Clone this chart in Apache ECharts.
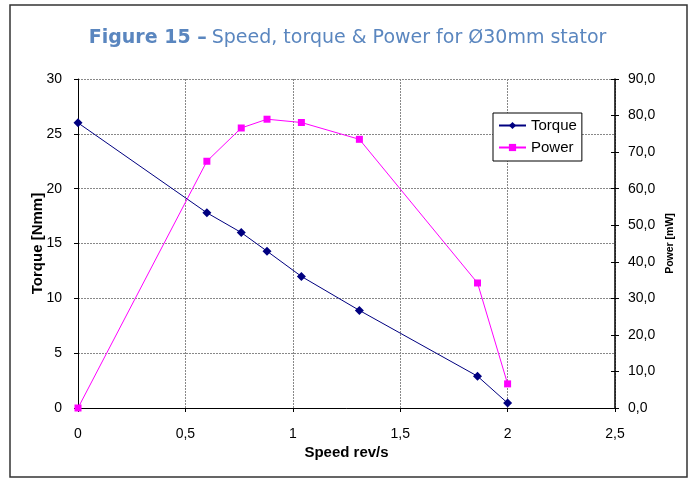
<!DOCTYPE html>
<html><head><meta charset="utf-8">
<script src="https://cdn.jsdelivr.net/npm/echarts@6/dist/echarts.min.js"></script>
<style>html,body{margin:0;padding:0;background:#fff}#c{width:695px;height:479px}</style>
</head><body><div id="c"></div>
<script>
const speed = [0, 0.60, 0.76, 0.88, 1.04, 1.31, 1.86, 2.0];
const torque = [26.0, 17.8, 16.0, 14.3, 12.0, 8.9, 2.9, 0.45];
const power = [0.0, 67.5, 76.6, 79.0, 78.1, 73.5, 34.2, 6.6];

const chart = echarts.init(document.getElementById('c'));
const lab = {color:'#000', fontFamily:'Liberation Sans, Arial', fontSize:14};
chart.setOption({
  animation:false,
  backgroundColor:'#fff',
  title:{
    text:'{b|Figure 15 –} {n|Speed, torque & Power for Ø30mm stator}',
    left:'center', top:24,
    textStyle:{rich:{
      b:{fontFamily:'DejaVu Sans', fontSize:19, fontWeight:'bold', color:'#5a86bf'},
      n:{fontFamily:'DejaVu Sans', fontSize:19, fontWeight:'normal', color:'#5a86bf'}
    }}
  },
  graphic:[{type:'rect', shape:{x:10, y:5, width:677, height:472}, style:{fill:'none', stroke:'#333', lineWidth:1.5}, silent:true, z:-1}],
  legend:{
    left:493, top:113, orient:'vertical', itemGap:7, itemWidth:27, itemHeight:9,
    padding:[5,5,6,5],
    borderColor:'#000', borderWidth:1, backgroundColor:'#fff',
    textStyle:{...lab, fontSize:15},
    data:['Torque','Power']
  },
  grid:{left:78, right:80, top:79, bottom:71},
  xAxis:{
    type:'value', min:0, max:2.5, interval:0.5,
    name:'Speed rev/s', nameLocation:'middle', nameGap:37, nameMoveOverlap:false,
    nameTextStyle:{...lab, fontSize:15, fontWeight:'bold'},
    axisLine:{show:true, lineStyle:{color:'#000', width:1}},
    axisTick:{show:true, inside:false, length:4, lineStyle:{color:'#000'}},
    axisLabel:{...lab, margin:19, formatter:v=>String(v).replace('.',',')},
    splitLine:{show:true, lineStyle:{color:'#888', type:[2,1], width:1}}
  },
  yAxis:[{
    type:'value', min:0, max:30, interval:5,
    name:'Torque [Nmm]', nameLocation:'middle', nameGap:33, nameRotate:90, nameMoveOverlap:false,
    nameTextStyle:{...lab, fontSize:15, fontWeight:'bold'},
    axisLine:{show:true, lineStyle:{color:'#000', width:1}},
    axisTick:{show:true, inside:false, length:4, lineStyle:{color:'#000'}},
    axisLabel:{...lab, margin:16},
    splitLine:{show:true, lineStyle:{color:'#888', type:[2,1], width:1}}
  },{
    type:'value', min:0, max:90, interval:10, position:'right',
    name:'Power [mW]', nameLocation:'middle', nameGap:50, nameRotate:90, nameMoveOverlap:false,
    nameTextStyle:{...lab, fontSize:10.5, fontWeight:'bold'},
    axisLine:{show:true, lineStyle:{color:'#000', width:1.5}},
    axisTick:{show:true, inside:false, length:4, lineStyle:{color:'#000'}},
    axisLabel:{...lab, margin:13, formatter:v=>v.toFixed(1).replace('.',',')},
    splitLine:{show:false}
  },{
    type:'value', min:0, max:90, interval:10, position:'right',
    axisLine:{show:false},
    axisTick:{show:true, inside:true, length:4, lineStyle:{color:'#000'}},
    axisLabel:{show:false}, splitLine:{show:false}
  }],
  series:[{
    name:'Torque', type:'line', yAxisIndex:0,
    data:speed.map((s,i)=>[s,torque[i]]),
    symbol:'diamond', symbolSize:9, showAllSymbol:true,
    itemStyle:{color:'#000080'}, lineStyle:{color:'#000080', width:1}
  },{
    name:'Power', type:'line', yAxisIndex:1,
    data:speed.map((s,i)=>[s,power[i]]),
    symbol:'rect', symbolSize:7, showAllSymbol:true,
    itemStyle:{color:'#ff00ff'}, lineStyle:{color:'#ff00ff', width:1}
  }]
});
</script></body></html>
